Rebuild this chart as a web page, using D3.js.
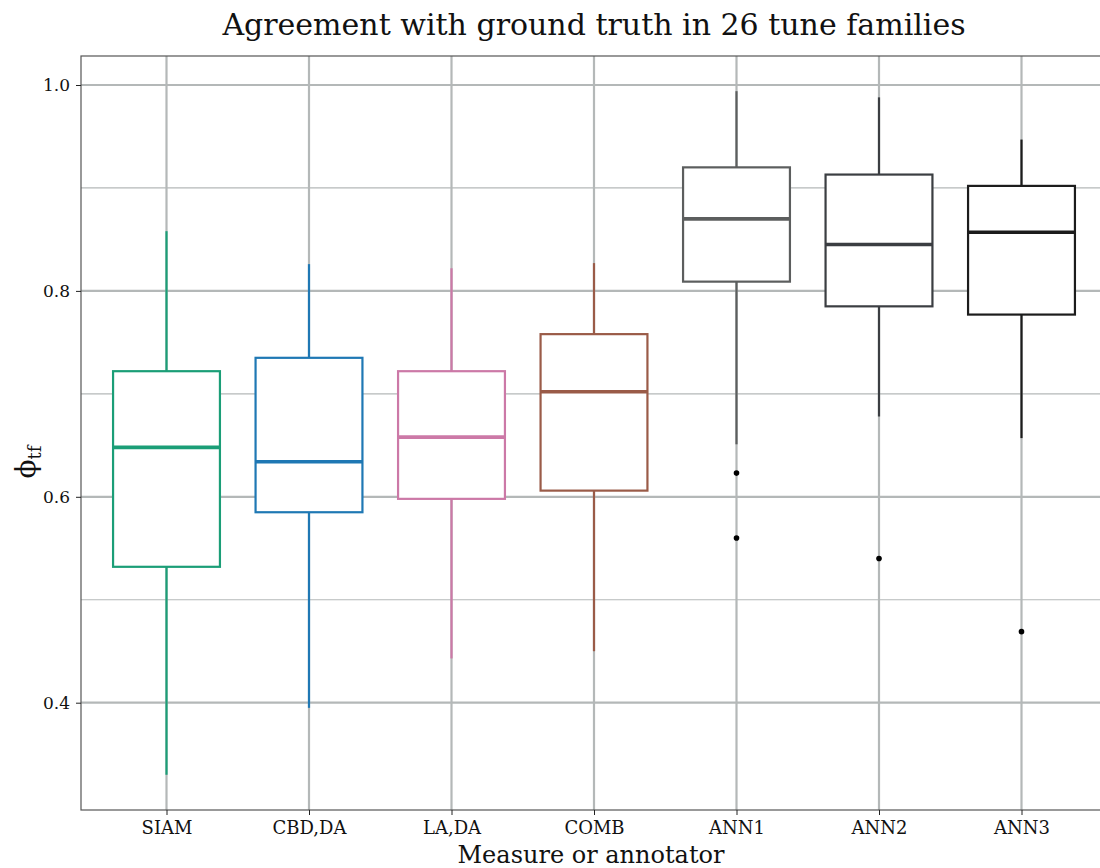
<!DOCTYPE html>
<html>
<head>
<meta charset="utf-8">
<script src="https://cdn.jsdelivr.net/npm/d3@7"></script>
<style>
  html, body { margin: 0; padding: 0; background: #fff; }
  svg { display: block; }
  text { font-family: "DejaVu Serif", "Liberation Serif", serif; }
</style>
</head>
<body>
<svg id="chart" width="1100" height="868"></svg>
<script>
// Box-plot summaries per measure / annotator
const categories = ["SIAM", "CBD,DA", "LA,DA", "COMB", "ANN1", "ANN2", "ANN3"];
const whiskerLow  = [0.330, 0.395, 0.443, 0.450, 0.651, 0.678, 0.657];
const q1          = [0.532, 0.585, 0.598, 0.606, 0.809, 0.785, 0.777];
const medians     = [0.648, 0.634, 0.658, 0.702, 0.870, 0.845, 0.857];
const q3          = [0.722, 0.735, 0.722, 0.758, 0.920, 0.913, 0.902];
const whiskerHigh = [0.858, 0.826, 0.822, 0.827, 0.994, 0.988, 0.947];
const outliers    = [[], [], [], [], [0.623, 0.560], [0.540], [0.469]];
const colors      = ["#1b9e77", "#1f78b4", "#cc79a7", "#9a5b48", "#5c5e5e", "#3b3e42", "#1c1c1c"];
const yTicks      = [0.4, 0.6, 0.8, 1.0];
const yMinor      = [0.5, 0.7, 0.9];

const svg = d3.select("#chart");
const W = 1100;
const x0 = 81, x1 = 1107;   // panel spans past the right edge of the page
const yTop = 56, yBottom = 810;

// Discrete axis expanded by 0.6 units on either side
const x = d3.scalePoint().domain(categories).range([x0, x1]).padding(0.6);
const y = d3.scaleLinear().domain([0.4, 1.0]).range([702.7, 85]);
const boxW = x.step() * 0.75;

const grid = "#b4b8b8";
const g = svg.append("g");

// Minor horizontal gridlines
g.selectAll("line.minor").data(yMinor).join("line")
  .attr("x1", x0).attr("x2", x1)
  .attr("y1", d => y(d)).attr("y2", d => y(d))
  .attr("stroke", grid).attr("stroke-width", 1.2);

// Major horizontal gridlines
g.selectAll("line.major").data(yTicks).join("line")
  .attr("x1", x0).attr("x2", x1)
  .attr("y1", d => y(d)).attr("y2", d => y(d))
  .attr("stroke", grid).attr("stroke-width", 2.2);

// Vertical gridlines at each category
g.selectAll("line.vgrid").data(categories).join("line")
  .attr("x1", d => x(d)).attr("x2", d => x(d))
  .attr("y1", yBottom).attr("y2", yTop)
  .attr("stroke", grid).attr("stroke-width", 2.2);

const rows = categories.map((c, i) => ({
  c, lo: whiskerLow[i], q1: q1[i], med: medians[i], q3: q3[i], hi: whiskerHigh[i],
  out: outliers[i], col: colors[i]
}));

const boxes = g.selectAll("g.box").data(rows).join("g").attr("class", "box");

// Whiskers
boxes.append("line")
  .attr("x1", d => x(d.c)).attr("x2", d => x(d.c))
  .attr("y1", d => y(d.hi)).attr("y2", d => y(d.q3))
  .attr("stroke", d => d.col).attr("stroke-width", 2.2);
boxes.append("line")
  .attr("x1", d => x(d.c)).attr("x2", d => x(d.c))
  .attr("y1", d => y(d.q1)).attr("y2", d => y(d.lo))
  .attr("stroke", d => d.col).attr("stroke-width", 2.2);

// Boxes
boxes.append("rect")
  .attr("x", d => x(d.c) - boxW / 2).attr("width", boxW)
  .attr("y", d => y(d.q3)).attr("height", d => y(d.q1) - y(d.q3))
  .attr("fill", "#fff").attr("stroke", d => d.col).attr("stroke-width", 2.2);

// Medians
boxes.append("line")
  .attr("x1", d => x(d.c) - boxW / 2).attr("x2", d => x(d.c) + boxW / 2)
  .attr("y1", d => y(d.med)).attr("y2", d => y(d.med))
  .attr("stroke", d => d.col).attr("stroke-width", 3.6);

// Outliers
boxes.selectAll("circle").data(d => d.out.map(v => ({ v, c: d.c }))).join("circle")
  .attr("cx", d => x(d.c)).attr("cy", d => y(d.v)).attr("r", 2.8)
  .attr("fill", "#000");

// Panel border
svg.append("rect")
  .attr("x", x0).attr("y", yTop).attr("width", x1 - x0).attr("height", yBottom - yTop)
  .attr("fill", "none").attr("stroke", "#555").attr("stroke-width", 1.2);

// Axes
const yAxis = d3.axisLeft(y).tickValues(yTicks).tickFormat(d3.format(".1f")).tickSize(5).tickPadding(6);
const yg = svg.append("g").attr("transform", `translate(${x0},0)`).call(yAxis);
yg.select(".domain").remove();
yg.selectAll("text").attr("font-size", 17).attr("fill", "#111")
  .attr("font-family", "'DejaVu Serif', serif");
yg.selectAll("line").attr("stroke", "#222");

const xAxis = d3.axisBottom(x).tickSize(5).tickPadding(6);
const xg = svg.append("g").attr("transform", `translate(0,${yBottom})`).call(xAxis);
xg.select(".domain").remove();
xg.selectAll("text").attr("font-size", 18).attr("fill", "#111")
  .attr("font-family", "'DejaVu Serif', serif");
xg.selectAll("line").attr("stroke", "#222");

// Title
svg.append("text")
  .attr("x", 594).attr("y", 35).attr("text-anchor", "middle")
  .attr("font-size", 30).attr("fill", "#111")
  .text("Agreement with ground truth in 26 tune families");

// X axis label
svg.append("text")
  .attr("x", 591).attr("y", 863).attr("text-anchor", "middle")
  .attr("font-size", 24).attr("fill", "#111")
  .text("Measure or annotator");

// Y axis label: phi with subscript tf
const yl = svg.append("text")
  .attr("transform", "translate(35,462) rotate(-90)")
  .attr("text-anchor", "middle").attr("font-size", 28).attr("fill", "#111");
yl.append("tspan").text("ϕ");
yl.append("tspan").attr("font-size", 18).attr("dy", 6).text("tf");
</script>
</body>
</html>
